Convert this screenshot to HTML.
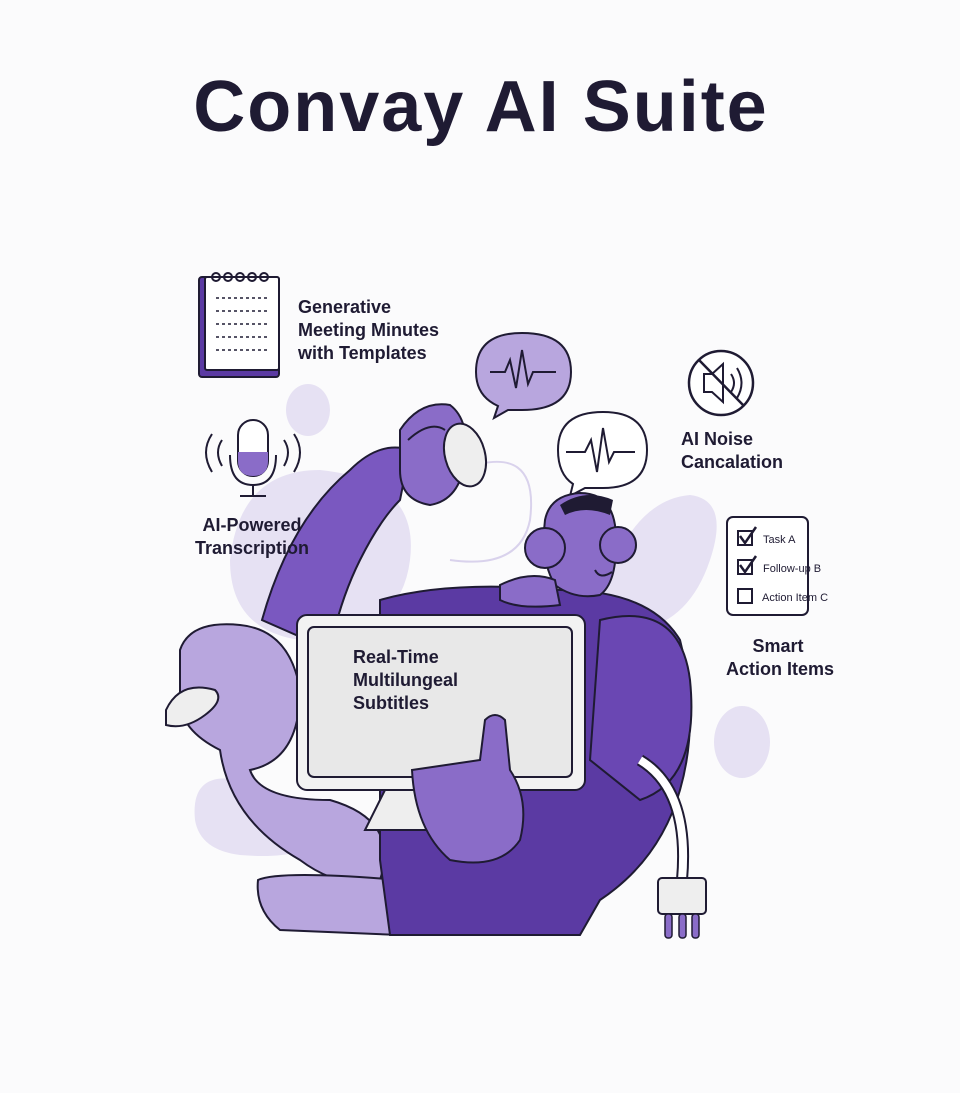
<!DOCTYPE html>
<html><head><meta charset="utf-8"><style>
html,body{margin:0;padding:0;background:#fbfbfc;}
body{width:960px;height:1088px;overflow:hidden;position:relative;font-family:"Liberation Sans",sans-serif;}
</style></head><body>
<svg width="960" height="1088" viewBox="0 0 960 1088" xmlns="http://www.w3.org/2000/svg" font-family="Liberation Sans, sans-serif">
<rect width="960" height="1088" fill="#fbfbfc"/>
<text x="481" y="131" text-anchor="middle" font-size="72" font-weight="bold" letter-spacing="2" fill="#1f1b33">Convay AI Suite</text>

<!-- background blobs -->
<g fill="#e6e1f3">
<ellipse cx="308" cy="410" rx="22" ry="26"/>
<path d="M230 560 Q240 470 320 470 Q420 480 410 560 Q400 640 300 640 Q230 630 230 560Z"/>
<path d="M600 600 Q630 500 690 495 Q730 500 710 560 Q690 620 640 630Z"/>
<ellipse cx="742" cy="742" rx="28" ry="36"/>
<path d="M195 820 Q190 770 240 780 Q300 800 320 840 Q300 860 240 855 Q200 850 195 820Z"/>
</g>

<!-- notepad -->
<rect x="199" y="277" width="80" height="100" rx="3" fill="#5b3aa3" stroke="#1f1b33" stroke-width="2"/>
<rect x="205" y="277" width="74" height="93" rx="2" fill="#fff" stroke="#1f1b33" stroke-width="2"/>
<g fill="none" stroke="#1f1b33" stroke-width="2">
<circle cx="216" cy="277" r="4"/><circle cx="228" cy="277" r="4"/><circle cx="240" cy="277" r="4"/><circle cx="252" cy="277" r="4"/><circle cx="264" cy="277" r="4"/></g>
<g stroke="#1f1b33" stroke-width="1.5" stroke-dasharray="3 3">
<line x1="216" y1="298" x2="268" y2="298"/><line x1="216" y1="311" x2="268" y2="311"/><line x1="216" y1="324" x2="268" y2="324"/><line x1="216" y1="337" x2="268" y2="337"/><line x1="216" y1="350" x2="268" y2="350"/></g>

<!-- speech bubbles -->
<path d="M522 333 Q571 333 571 372 Q571 410 522 410 L508 410 L494 418 L498 406 Q476 396 476 372 Q476 333 522 333Z" fill="#b8a6de" stroke="#1f1b33" stroke-width="2"/>
<polyline points="490,372 505,372 510,360 516,388 522,350 528,384 533,372 556,372" fill="none" stroke="#1f1b33" stroke-width="2"/>
<path d="M603 412 Q647 412 647 450 Q647 488 603 488 L585 488 L570 496 L573 484 Q558 474 558 450 Q558 412 603 412Z" fill="#fff" stroke="#1f1b33" stroke-width="2"/>
<polyline points="566,452 585,452 591,440 597,472 603,428 609,462 614,452 635,452" fill="none" stroke="#1f1b33" stroke-width="2"/>

<!-- noise cancel -->
<circle cx="721" cy="383" r="32" fill="#fff" stroke="#1f1b33" stroke-width="2.5"/>
<path d="M704 374 L712 374 L723 364 L723 402 L712 392 L704 392Z" fill="#fff" stroke="#1f1b33" stroke-width="2"/>
<path d="M731 374 Q737 383 731 392 M737 368 Q746 383 737 398" fill="none" stroke="#1f1b33" stroke-width="2"/>
<line x1="699" y1="360" x2="744" y2="406" stroke="#1f1b33" stroke-width="2.5"/>

<!-- mic -->
<rect x="238" y="420" width="30" height="56" rx="15" fill="#fff" stroke="#1f1b33" stroke-width="2"/>
<path d="M238 452 L268 452 L268 461 Q268 476 253 476 Q238 476 238 461Z" fill="#8a6cc8"/>
<path d="M230 455 Q230 485 253 485 Q276 485 276 455 M253 485 L253 496 M240 496 L266 496" fill="none" stroke="#1f1b33" stroke-width="2"/>
<path d="M222 440 Q214 452 222 466 M212 434 Q200 452 212 472 M284 440 Q292 452 284 466 M294 434 Q306 452 294 472" fill="none" stroke="#1f1b33" stroke-width="2"/>

<!-- checklist -->
<rect x="727" y="517" width="81" height="98" rx="6" fill="#fff" stroke="#1f1b33" stroke-width="2"/>
<g fill="#fff" stroke="#1f1b33" stroke-width="2"><rect x="738" y="531" width="14" height="14"/><rect x="738" y="560" width="14" height="14"/><rect x="738" y="589" width="14" height="14"/></g>
<path d="M740 536 L745 543 L756 527 M740 565 L745 572 L756 556" fill="none" stroke="#1f1b33" stroke-width="2.5"/>
<g font-size="11" fill="#1f1b33"><text x="763" y="543">Task A</text><text x="763" y="572">Follow-up B</text><text x="762" y="601">Action Item C</text></g>

<!-- cord -->
<path d="M460 470 Q540 440 530 520 Q520 570 450 560" fill="none" stroke="#d9d2ec" stroke-width="2"/>

<!-- cat/tail -->
<path d="M180 650 Q190 620 240 625 Q290 630 300 690 Q300 760 250 770 Q260 800 330 800 Q400 820 380 880 Q340 890 300 860 Q230 820 220 750 Q180 730 180 700Z" fill="#b8a6de" stroke="#1f1b33" stroke-width="2"/>
<path d="M166 710 Q180 680 215 690 Q225 700 205 715 Q185 730 166 725Z" fill="#eee" stroke="#1f1b33" stroke-width="2"/>
<path d="M258 880 Q280 870 400 880 L400 935 L280 930 Q255 910 258 880Z" fill="#b8a6de" stroke="#1f1b33" stroke-width="2"/>

<!-- body -->
<path d="M380 600 Q450 580 560 590 Q650 590 680 640 Q700 720 680 790 Q660 860 600 900 L580 935 L390 935 L380 860Z" fill="#5b3aa3" stroke="#1f1b33" stroke-width="2"/>
<path d="M600 620 Q680 600 690 680 Q700 780 640 800 L590 760Z" fill="#6a47b3" stroke="#1f1b33" stroke-width="2"/>
<!-- arm up -->
<path d="M262 620 Q290 520 350 470 Q380 440 410 450 L400 500 Q380 520 360 560 Q340 600 330 650Z" fill="#7a58c0" stroke="#1f1b33" stroke-width="2"/>
<path d="M400 430 Q420 400 450 405 Q470 420 465 460 Q460 500 430 505 Q400 500 400 470Z" fill="#8a6cc8" stroke="#1f1b33" stroke-width="2"/>
<ellipse cx="465" cy="455" rx="20" ry="32" fill="#eee" stroke="#1f1b33" stroke-width="2" transform="rotate(-15 465 455)"/>
<path d="M408 440 Q430 420 445 430" fill="none" stroke="#1f1b33" stroke-width="2"/>
<!-- head -->
<path d="M545 520 Q550 495 580 493 Q610 493 615 525 Q620 580 600 595 Q575 600 555 585 Q540 560 545 520Z" fill="#8a6cc8" stroke="#1f1b33" stroke-width="2"/>
<path d="M560 505 Q585 488 613 500 L610 515 Q585 505 565 515Z" fill="#1f1b33"/>
<circle cx="545" cy="548" r="20" fill="#8a6cc8" stroke="#1f1b33" stroke-width="2"/>
<circle cx="618" cy="545" r="18" fill="#8a6cc8" stroke="#1f1b33" stroke-width="2"/>
<path d="M500 585 Q530 570 555 580 L560 605 Q520 610 500 600Z" fill="#8a6cc8" stroke="#1f1b33" stroke-width="2"/>
<path d="M595 570 Q600 580 612 572" fill="none" stroke="#1f1b33" stroke-width="2"/>

<!-- monitor -->
<path d="M365 830 L475 830 L460 790 L385 790Z" fill="#eee" stroke="#1f1b33" stroke-width="2"/>
<rect x="297" y="615" width="288" height="175" rx="10" fill="#f2f2f2" stroke="#1f1b33" stroke-width="2"/>
<rect x="308" y="627" width="264" height="150" rx="6" fill="#e8e8e8" stroke="#1f1b33" stroke-width="2"/>
<g font-size="18" font-weight="bold" fill="#1f1b33"><text x="353" y="663">Real-Time</text><text x="353" y="686">Multilungeal</text><text x="353" y="709">Subtitles</text></g>
<!-- hand -->
<path d="M412 770 L480 760 L485 720 Q495 710 505 720 L510 770 Q530 800 520 840 Q500 870 450 860 Q415 830 412 770Z" fill="#8a6cc8" stroke="#1f1b33" stroke-width="2"/>
<!-- plug cable -->
<path d="M640 760 Q690 790 682 880" fill="none" stroke="#1f1b33" stroke-width="12"/>
<path d="M640 760 Q690 790 682 880" fill="none" stroke="#fff" stroke-width="8"/>
<rect x="658" y="878" width="48" height="36" rx="4" fill="#eee" stroke="#1f1b33" stroke-width="2"/>
<g fill="#8a6cc8" stroke="#1f1b33" stroke-width="1.5"><rect x="665" y="914" width="7" height="24" rx="3"/><rect x="679" y="914" width="7" height="24" rx="3"/><rect x="692" y="914" width="7" height="24" rx="3"/></g>

<!-- labels on top -->
<g font-size="18" font-weight="bold" fill="#1f1b33">
<text x="298" y="313">Generative</text><text x="298" y="336">Meeting Minutes</text><text x="298" y="359">with Templates</text>
<text x="681" y="445">AI Noise</text><text x="681" y="468">Cancalation</text></g>
<g font-size="18" font-weight="bold" fill="#1f1b33" text-anchor="middle">
<text x="252" y="531">AI-Powered</text><text x="252" y="554">Transcription</text>
<text x="778" y="652">Smart</text><text x="780" y="675">Action Items</text></g>
</svg>
</body></html>
